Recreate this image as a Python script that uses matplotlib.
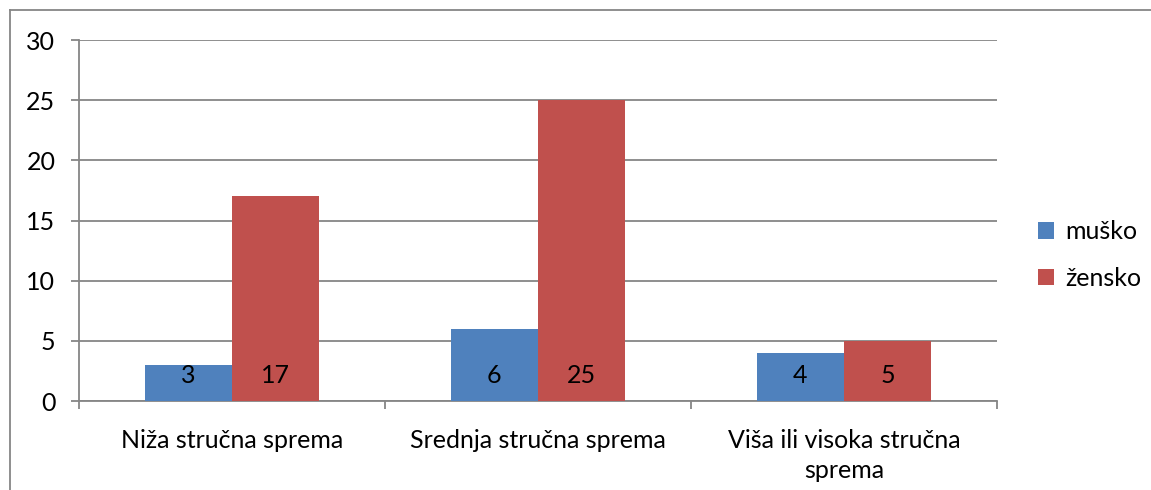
import matplotlib
matplotlib.use("Agg")
from matplotlib import pyplot as plt
import numpy as np

categories = ["Niža stručna sprema", "Srednja stručna sprema", "Viša ili visoka stručna\nsprema"]
musko = [3, 6, 4]
zensko = [17, 25, 5]
series_names = ["muško", "žensko"]
yticks = [0, 5, 10, 15, 20, 25, 30]

plt.rcParams['font.family'] = ['Lato', 'DejaVu Sans']
fs = 18

fig = plt.figure(figsize=(11.51, 4.90), dpi=100)
ax = fig.add_axes([79/1151, 1 - 401/490, (997-79)/1151, (401-40)/490])

x = np.arange(len(categories))
w = 1 / 3.5
b1 = ax.bar(x - w/2, musko, w, color="#4F81BD", label=series_names[0], zorder=3)
b2 = ax.bar(x + w/2, zensko, w, color="#C0504D", label=series_names[1], zorder=3)

for bars, vals in [(b1, musko), (b2, zensko)]:
    for r, v in zip(bars, vals):
        ax.annotate(str(v), (r.get_x() + r.get_width()/2, 0), xytext=(0, 18.5),
                    textcoords="offset points", ha="center", va="center",
                    fontsize=fs, color="black", zorder=4)

ax.set_xlim(-0.5, 2.5)
ax.set_ylim(0, 30)
ax.set_yticks(yticks)
ax.yaxis.grid(True, color="#868686", linewidth=1.3, zorder=0)
ax.tick_params(axis="y", length=6, width=1.3, color="#868686", labelsize=fs, pad=11)
ax.set_xticks([-0.5, 0.5, 1.5, 2.5], minor=False)
ax.set_xticklabels([])
ax.tick_params(axis="x", length=6, width=1.3, color="#868686")
ax.set_xticks(x, minor=True)
ax.set_xticklabels(categories, minor=True, fontsize=fs, linespacing=1.4)
ax.tick_params(axis="x", which="minor", length=0, pad=20)
for s in ["top", "right"]:
    ax.spines[s].set_visible(False)
for s in ["left", "bottom"]:
    ax.spines[s].set_color("#868686")
    ax.spines[s].set_linewidth(1.3)

ax.legend(loc="center left", bbox_to_anchor=(1028/1151, 1 - 255/490), bbox_transform=fig.transFigure,
          frameon=False, fontsize=fs, handlelength=0.65, handleheight=0.65,
          labelspacing=0.95, handletextpad=0.45, borderaxespad=0)

# chart border
fig.add_artist(plt.Line2D([10/1151, 1], [1 - 10/490, 1 - 10/490], color="#868686", lw=1.3))
fig.add_artist(plt.Line2D([10/1151, 10/1151], [0, 1 - 10/490], color="#868686", lw=1.3))

fig.savefig("out.png", dpi=100)
